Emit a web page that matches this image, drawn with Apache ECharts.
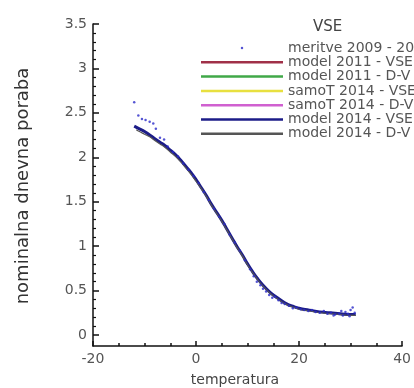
<!DOCTYPE html>
<html><head><meta charset="utf-8">
<script src="https://cdn.jsdelivr.net/npm/echarts@6/dist/echarts.min.js"></script>
<style>html,body{margin:0;padding:0;background:#fff}#c{width:414px;height:388px}</style>
</head><body><div id="c"></div>
<script>
const seriesNames = ['meritve 2009 - 2013','model 2011 - VSE','model 2011 - D-V','samoT 2014 - VSE','samoT 2014 - D-V','model 2014 - VSE','model 2014 - D-V'];
const seriesColors = ['#2a2ac8','#a03048','#40a848','#e8e040','#d060d0','#1c1c88','#555555'];
const xTicks = {min:-20, max:40, interval:20, minorSplit:4};
const yTicks = {min:0, max:3.5, interval:0.5, minorSplit:5};
const yAxisBottom = -0.124;
const meritve = [[-12,2.62],[-11.2,2.47],[-10.5,2.43],[-9.8,2.42],[-9,2.40],[-8.3,2.38],[-7.8,2.32],[-7,2.22],[-6.2,2.20],[-5.5,2.12],[-4.5,2.06],[-3.5,2.01],[-2.5,1.93],[-1.5,1.86],[-0.5,1.79],[0.5,1.71],[1.5,1.61],[2.5,1.52],[3.5,1.42],[4.5,1.33],[5.5,1.25],[6.5,1.13],[7.5,1.04],[8.5,0.95],[9.5,0.84],[10.5,0.74],[11.2,0.66],[11.8,0.60],[12.5,0.56],[13,0.52],[13.6,0.49],[14.2,0.45],[14.8,0.42],[15.3,0.43],[16,0.39],[16.6,0.36],[17.2,0.35],[18,0.33],[18.8,0.30],[19.5,0.31],[20.3,0.29],[21,0.28],[21.8,0.27],[22.5,0.28],[23.2,0.26],[24,0.25],[24.8,0.27],[25.5,0.24],[26.2,0.25],[27,0.23],[27.8,0.24],[28.5,0.22],[29,0.26],[29.5,0.24],[30,0.28],[30.4,0.31],[30.8,0.25],[29.8,0.21],[28.2,0.27],[26.7,0.22]];
const model2011VSE = [];
const model2011DV = [];
const samoT2014VSE = [];
const samoT2014DV = [];
const model2014VSE = [[-12,2.35],[-11,2.32],[-10,2.29],[-9,2.25],[-8,2.21],[-7,2.17],[-6,2.13],[-5,2.08],[-4,2.03],[-3,1.97],[-2,1.90],[-1,1.83],[0,1.75],[1,1.66],[2,1.57],[3,1.47],[4,1.38],[5,1.29],[6,1.19],[7,1.09],[8,0.99],[9,0.90],[10,0.80],[11,0.71],[12,0.63],[13,0.56],[14,0.50],[15,0.45],[16,0.41],[17,0.37],[18,0.34],[19,0.32],[20,0.30],[22,0.28],[24,0.26],[26,0.25],[28,0.24],[30,0.23],[31,0.23]];
const model2014DV = [[-11.6,2.31],[-11,2.29],[-10,2.26],[-9,2.23],[-8,2.19],[-7,2.15],[-6,2.11],[-5,2.06],[-4,2.01],[-3,1.95],[-2,1.88],[-1,1.81],[0,1.73],[1,1.65],[2,1.56],[3,1.46],[4,1.37],[5,1.28],[6,1.18],[7,1.08],[8,0.98],[9,0.89],[10,0.79],[11,0.70],[12,0.62],[13,0.55],[14,0.49],[15,0.44],[16,0.40],[17,0.36],[18,0.33],[19,0.31],[20,0.29],[22,0.27],[24,0.25],[26,0.24],[28,0.23],[30,0.22],[31,0.22]];

const lineData = [model2011VSE, model2011DV, samoT2014VSE, samoT2014DV, model2014VSE, model2014DV];
const lineWidths = [1.5,1.5,1.5,1.5,3,1.2];
const FONT = 'DejaVu Sans';
const AX = '#111';
const chart = echarts.init(document.getElementById('c'));
const series = [{
  name: seriesNames[0], type:'scatter', data: meritve, symbolSize: 2.5,
  itemStyle:{color: seriesColors[0]}, xAxisIndex:0, yAxisIndex:0, z:3
}];
lineData.forEach((d,i)=>{
  series.push({name: seriesNames[i+1], type:'line', data:d, showSymbol:false, smooth:true,
    lineStyle:{color: seriesColors[i+1], width: lineWidths[i]}, itemStyle:{color: seriesColors[i+1]},
    xAxisIndex:0, yAxisIndex:0, z: 2 + i*0.1});
});
chart.setOption({
  animation:false,
  backgroundColor:'#fff',
  grid:[
    {left:93, right:0, top:24, bottom:42},
    {left:93, right:0, top:24, bottom:53}
  ],
  xAxis:[
    {type:'value', gridIndex:0, min:xTicks.min, max:xTicks.max, interval:xTicks.interval,
      axisLine:{show:true, onZero:false, lineStyle:{color:AX, width:1.5}},
      axisTick:{show:true, inside:true, length:5, lineStyle:{color:AX, width:1.5}},
      minorTick:{show:true, splitNumber:xTicks.minorSplit, length:3, lineStyle:{color:AX, width:1.5}},
      splitLine:{show:false}, minorSplitLine:{show:false},
      axisLabel:{color:'#555', fontSize:14, fontFamily:FONT, margin:6, showMaxLabel:true, showMinLabel:true}},
    {type:'value', gridIndex:1, min:xTicks.min, max:xTicks.max, show:false}
  ],
  yAxis:[
    {type:'value', gridIndex:0, min:yAxisBottom, max:yTicks.max,
      axisLine:{show:true, onZero:false, lineStyle:{color:AX, width:1.5}},
      axisTick:{show:false}, axisLabel:{show:false}, splitLine:{show:false}},
    {type:'value', gridIndex:1, min:yTicks.min, max:yTicks.max, interval:yTicks.interval,
      axisLine:{show:false, onZero:false},
      axisTick:{show:true, inside:true, length:6, lineStyle:{color:AX, width:1.5}},
      minorTick:{show:true, splitNumber:yTicks.minorSplit, length:3, lineStyle:{color:AX, width:1.2}},
      splitLine:{show:false}, minorSplitLine:{show:false},
      axisLabel:{color:'#555', fontSize:14, fontFamily:FONT, margin:6}}
  ],
  legend:{
    orient:'vertical', left:201, top:41, padding:0, itemGap:0.3,
    itemWidth:82, itemHeight:2.5,
    textStyle:{color:'#555', fontSize:14, fontFamily:FONT, lineHeight:11},
    data: seriesNames.map((n,i)=>({name:n, icon: i===0 ? 'circle' : 'rect'}))
  },
  graphic:[
    {type:'text', left:313, top:20, style:{text:'VSE', fontSize:15, fontFamily:FONT, fill:'#444'}},
    {type:'text', x:235, y:380, style:{text:'temperatura', fontSize:14, fontFamily:FONT, fill:'#444', align:'center', verticalAlign:'middle'}},
    {type:'text', x:23, y:186, rotation:Math.PI/2, style:{text:'nominalna dnevna poraba', fontSize:18, fontFamily:FONT, fill:'#333', align:'center', verticalAlign:'middle'}}
  ],
  series: series
});
</script></body></html>
